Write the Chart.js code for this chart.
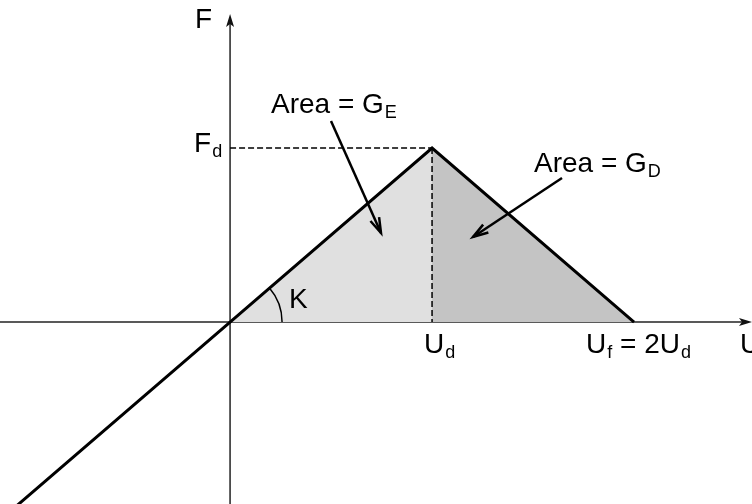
<!DOCTYPE html>
<html>
<head>
<meta charset="utf-8">
<script src="https://cdn.jsdelivr.net/npm/chart.js@4"></script>
<style>
  html, body { margin: 0; padding: 0; background: #fff; }
  #wrap { width: 752px; height: 504px; }
</style>
</head>
<body>
<div id="wrap"><canvas id="chart" width="752" height="504"></canvas></div>
<script>
// ── Bilinear cohesive law: F vs U ──
// units: Ud = 1, Fd = 1, Uf = 2Ud
const envU = [-1.07, 0, 1, 2];
const envF = [-1.07, 0, 1, 0];
const elasticU = [0, 1];
const elasticF = [0, 1];
const damageU = [1, 2];
const damageF = [1, 0];
const dashHU = [0, 1];
const dashHF = [1, 1];
const dashVU = [1, 1];
const dashVF = [1, 0];

const xRange = [-1.139, 2.584];
const yRange = [-1.046, 1.851];

const FONT = '"Liberation Sans", Arial, sans-serif';

const pts = (xs, ys) => xs.map((x, i) => ({ x, y: ys[i] }));

// text with subscript, parts = [[main, sub], ...]
function richText(ctx, x, y, parts) {
  let cx = x;
  parts.forEach(([main, sub]) => {
    ctx.font = `28px ${FONT}`;
    ctx.fillText(main, cx, y);
    cx += ctx.measureText(main).width;
    if (sub) {
      ctx.font = `18px ${FONT}`;
      ctx.fillText(sub, cx + 1, y + 5);
      cx += ctx.measureText(sub).width + 1;
    }
  });
}

function arrowLine(ctx, x1, y1, x2, y2) {
  ctx.beginPath();
  ctx.moveTo(x1, y1);
  ctx.lineTo(x2, y2);
  ctx.stroke();
  const a = Math.atan2(y2 - y1, x2 - x1);
  const len = 16, spread = 0.3;
  ctx.beginPath();
  ctx.moveTo(x2 - len * Math.cos(a - spread), y2 - len * Math.sin(a - spread));
  ctx.lineTo(x2, y2);
  ctx.lineTo(x2 - len * Math.cos(a + spread), y2 - len * Math.sin(a + spread));
  ctx.stroke();
}

const decor = {
  id: 'decor',
  beforeDatasetsDraw(chart) {
    const { ctx, scales: { x, y }, chartArea } = chart;
    const ox = x.getPixelForValue(0), oy = y.getPixelForValue(0);
    ctx.save();
    ctx.strokeStyle = '#222';
    ctx.fillStyle = '#111';
    ctx.lineWidth = 1.5;
    // x axis
    ctx.beginPath();
    ctx.moveTo(chartArea.left, oy);
    ctx.lineTo(chartArea.right - 4, oy);
    ctx.stroke();
    // y axis
    ctx.beginPath();
    ctx.moveTo(ox, chartArea.bottom);
    ctx.lineTo(ox, chartArea.top + 20);
    ctx.stroke();
    // arrowheads
    ctx.beginPath();
    ctx.moveTo(ox, 14);
    ctx.lineTo(ox - 4, 27);
    ctx.lineTo(ox, 24);
    ctx.lineTo(ox + 4, 27);
    ctx.closePath();
    ctx.fill();
    ctx.beginPath();
    ctx.moveTo(752, oy);
    ctx.lineTo(739, oy - 4);
    ctx.lineTo(742, oy);
    ctx.lineTo(739, oy + 4);
    ctx.closePath();
    ctx.fill();
    ctx.restore();
  },
  afterDatasetsDraw(chart) {
    const { ctx, scales: { x, y } } = chart;
    const ox = x.getPixelForValue(0), oy = y.getPixelForValue(0);
    const ud = x.getPixelForValue(1), uf = x.getPixelForValue(2);
    const fd = y.getPixelForValue(1);
    ctx.save();
    ctx.fillStyle = '#000';
    ctx.textBaseline = 'alphabetic';
    ctx.textAlign = 'left';

    // stiffness arc
    ctx.strokeStyle = '#000';
    ctx.lineWidth = 1.5;
    const ang = Math.atan2(fd - oy, ud - ox);
    ctx.beginPath();
    ctx.arc(ox, oy, 52, ang, 0);
    ctx.stroke();

    // labels
    richText(ctx, 195, 28, [['F']]);
    richText(ctx, ox - 36, fd + 4, [['F', 'd']]);
    richText(ctx, ud - 8, oy + 31, [['U', 'd']]);
    richText(ctx, uf - 48, oy + 31, [['U', 'f'], [' = 2U', 'd']]);
    richText(ctx, 740, oy + 31, [['U']]);
    richText(ctx, ox + 59, oy - 14, [['K']]);
    richText(ctx, 271, 113, [['Area = G', 'E']]);
    richText(ctx, 534, 172, [['Area = G', 'D']]);

    // pointers
    ctx.lineWidth = 2.5;
    arrowLine(ctx, 331, 121, 381, 233);
    arrowLine(ctx, 562, 178, 473, 237);
    ctx.restore();
  }
};

new Chart(document.getElementById('chart'), {
  type: 'scatter',
  data: {
    datasets: [
      { data: pts(elasticU, elasticF), showLine: true, fill: 'origin',
        backgroundColor: '#e0e0e0', borderWidth: 0, pointRadius: 0, order: 5 },
      { data: pts(damageU, damageF), showLine: true, fill: 'origin',
        backgroundColor: '#c4c4c4', borderWidth: 0, pointRadius: 0, order: 4 },
      { data: pts(dashHU, dashHF), showLine: true, borderColor: '#000',
        borderWidth: 1.5, borderDash: [6, 3], pointRadius: 0, order: 3 },
      { data: pts(dashVU, dashVF), showLine: true, borderColor: '#000',
        borderWidth: 1.5, borderDash: [6, 3], pointRadius: 0, order: 2 },
      { data: pts(envU, envF), showLine: true, borderColor: '#000',
        borderWidth: 3, pointRadius: 0, tension: 0, order: 1 }
    ]
  },
  options: {
    responsive: false,
    devicePixelRatio: 1,
    animation: false,
    layout: { padding: 0 },
    plugins: { legend: { display: false }, tooltip: { enabled: false } },
    scales: {
      x: { type: 'linear', min: xRange[0], max: xRange[1], display: false },
      y: { type: 'linear', min: yRange[0], max: yRange[1], display: false }
    }
  },
  plugins: [decor]
});
</script>
</body>
</html>
